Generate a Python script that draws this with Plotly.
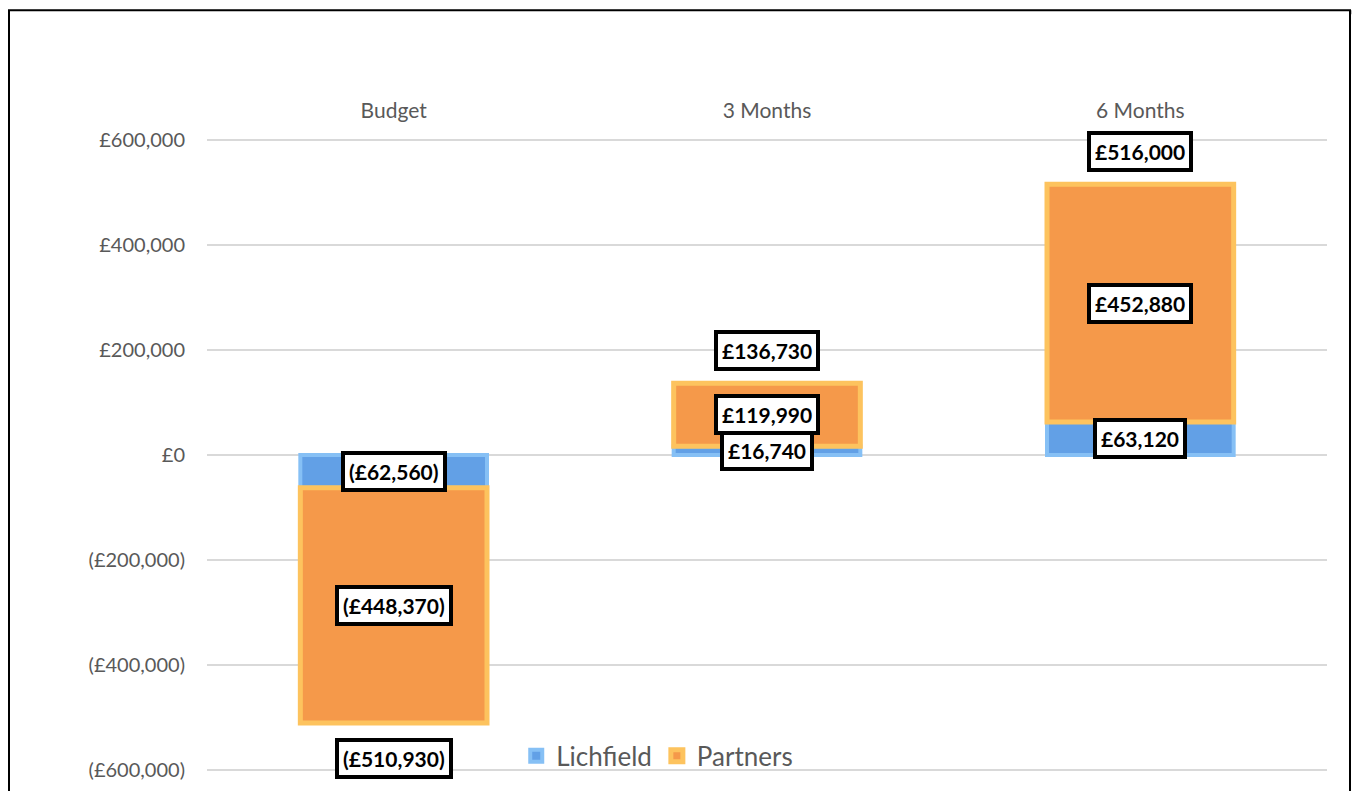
import plotly.graph_objects as go

categories = ["Budget", "3 Months", "6 Months"]
lichfield = [-62560, 16740, 63120]
partners = [-448370, 119990, 452880]
totals = [-510930, 136730, 516000]

y_tickvals = [-600000, -400000, -200000, 0, 200000, 400000, 600000]
y_ticktext = ["(£600,000)", "(£400,000)", "(£200,000)", "£0", "£200,000", "£400,000", "£600,000"]


def money(v):
    s = "£{:,.0f}".format(abs(v))
    return "(" + s + ")" if v < 0 else s


FONT = "Lato"
GREY = "#595959"

# figure-pixel helpers for decorative frame (page body adds 8px offset)
L, R, T, B = 199, 1319, 127, 773


def px(x):
    return (x - L) / (R - L)


def py(y):
    return (B - y) / (B - T)


fig = go.Figure()
fig.add_trace(go.Bar(
    x=categories, y=lichfield, name="Lichfield",
    marker=dict(color="#62A0E6", line=dict(color="#86C0F5", width=4)),
))
fig.add_trace(go.Bar(
    x=categories, y=partners, name="Partners",
    marker=dict(color="#F5994A", line=dict(color="#FDC35E", width=5)),
))

box = dict(bgcolor="white", bordercolor="black", borderwidth=4, borderpad=4,
           font=dict(family=FONT, size=21, color="black", weight="bold"), showarrow=False)

annotations = []
for c, l, p, t in zip(categories, lichfield, partners, totals):
    annotations.append(dict(x=c, y=l / 2, text=money(l), **box))
    annotations.append(dict(x=c, y=l + p / 2, text=money(p), **box))
    annotations.append(dict(x=c, y=t, text=money(t), yshift=33 if t > 0 else -35, **box))

fig.update_layout(
    width=1352, height=783,
    margin=dict(l=L, r=1352 - R, t=T, b=783 - B),
    paper_bgcolor="white", plot_bgcolor="white",
    barmode="relative", bargap=0.5,
    font=dict(family=FONT, color=GREY),
    showlegend=True,
    legend=dict(orientation="h", x=0.402, xanchor="center", y=0.03, yanchor="middle",
                font=dict(size=26, color=GREY), bgcolor="rgba(0,0,0,0)"),
    xaxis=dict(side="top", showgrid=False, showline=False, ticks="",
               tickfont=dict(size=21, color=GREY), ticklabelstandoff=12),
    yaxis=dict(range=[-610000, 610000], tickvals=y_tickvals, ticktext=y_ticktext,
               showgrid=True, gridcolor="#D9D9D9", gridwidth=1.5,
               zeroline=True, zerolinecolor="#D9D9D9", zerolinewidth=1.5,
               showline=False, ticks="", tickfont=dict(size=20, color=GREY),
               ticklabelstandoff=21),
    annotations=annotations,
    shapes=[
        dict(type="rect", xref="paper", yref="paper", layer="below",
             x0=px(3), x1=px(1346), y0=py(800), y1=py(3),
             line=dict(color="#BFBFBF", width=4)),
        dict(type="rect", xref="paper", yref="paper", layer="below",
             x0=px(1), x1=px(1342), y0=py(800), y1=py(1),
             line=dict(color="black", width=2), fillcolor="white"),
    ],
)

fig.write_html("out.html")
